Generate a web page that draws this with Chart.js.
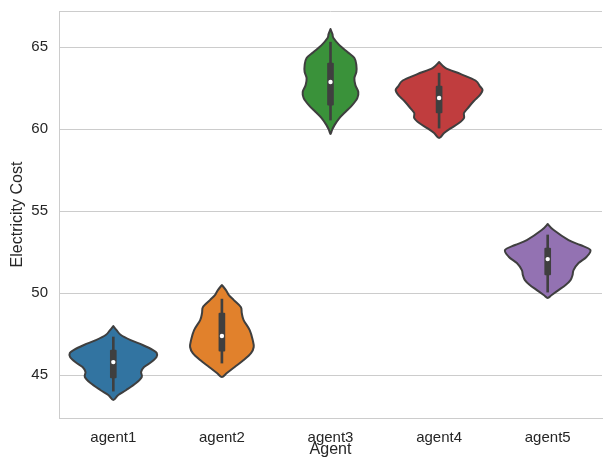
<!DOCTYPE html>
<html>
<head>
<meta charset="utf-8">
<script src="https://cdn.jsdelivr.net/npm/chart.js@4.4.1/dist/chart.umd.min.js"></script>
<style>
  html, body { margin: 0; padding: 0; background: #ffffff; overflow: hidden; }
  #wrap { width: 603px; height: 462px; overflow: hidden; }
  canvas { display: block; }
</style>
</head>
<body>
<div id="wrap"><canvas id="chart" width="606" height="462"></canvas></div>
<script>
// Categories and summary statistics of electricity cost per agent
const agents = ['agent1', 'agent2', 'agent3', 'agent4', 'agent5'];
const whiskerLow  = [44.02, 45.73, 60.55, 60.06, 50.06];
const whiskerHigh = [47.32, 49.63, 65.30, 63.41, 53.54];
const quartile1   = [44.82, 46.46, 61.46, 60.98, 51.10];
const quartile3   = [46.52, 48.78, 64.02, 62.62, 52.74];
const medians     = [45.79, 47.38, 62.87, 61.89, 52.07];
const yTicks      = [45, 50, 55, 60, 65];

// Kernel density outlines: cost levels (top to bottom) and the half-width of
// each violin at that level, in category units
const violinLevels = [
  [47.99, 47.74, 47.44, 47.13, 46.83, 46.52, 46.34, 46.10, 45.79, 45.49, 45.18, 44.88, 44.51, 44.09, 43.78, 43.48],
  [50.49, 50.18, 49.88, 49.57, 49.15, 48.78, 48.35, 47.74, 47.13, 46.71, 46.34, 45.91, 45.49, 45.12, 44.88],
  [66.10, 65.79, 65.55, 65.12, 64.70, 64.33, 63.90, 63.48, 63.11, 62.68, 62.26, 61.89, 61.46, 61.04, 60.67, 60.24, 59.94, 59.70],
  [64.09, 63.72, 63.35, 62.96, 62.62, 62.38, 62.07, 61.71, 61.28, 60.98, 60.67, 60.37, 60.06, 59.76, 59.45],
  [54.21, 53.84, 53.23, 52.93, 52.62, 52.20, 51.83, 51.40, 51.10, 50.79, 50.49, 50.18, 49.88, 49.70]
];
const violinWidths = [
  [0, 0.030, 0.070, 0.160, 0.270, 0.366, 0.400, 0.398, 0.350, 0.283, 0.256, 0.262, 0.210, 0.120, 0.046, 0],
  [0, 0.037, 0.064, 0.110, 0.174, 0.183, 0.200, 0.256, 0.284, 0.293, 0.268, 0.200, 0.118, 0.046, 0],
  [0, 0.018, 0.027, 0.082, 0.156, 0.220, 0.238, 0.238, 0.220, 0.229, 0.256, 0.247, 0.200, 0.137, 0.082, 0.037, 0.014, 0],
  [0, 0.060, 0.200, 0.335, 0.375, 0.400, 0.375, 0.320, 0.265, 0.229, 0.229, 0.183, 0.110, 0.046, 0],
  [0, 0.055, 0.192, 0.300, 0.393, 0.357, 0.284, 0.238, 0.229, 0.210, 0.165, 0.100, 0.037, 0]
];
const violinColors = ['#3274A1', '#E1812C', '#3A923A', '#C03D3E', '#9372B2'];

const INK = '#3f3f3f';
const TEXT = '#262626';
const GRID = '#cccccc';

// Smooth outline through points using Catmull-Rom splines
function smoothPath(ctx, pts) {
  const n = pts.length;
  ctx.moveTo(pts[0][0], pts[0][1]);
  for (let i = 0; i < n - 1; i++) {
    const p0 = pts[Math.max(i - 1, 0)];
    const p1 = pts[i];
    const p2 = pts[i + 1];
    const p3 = pts[Math.min(i + 2, n - 1)];
    const c1x = p1[0] + (p2[0] - p0[0]) / 6;
    const c1y = p1[1] + (p2[1] - p0[1]) / 6;
    const c2x = p2[0] - (p3[0] - p1[0]) / 6;
    const c2y = p2[1] - (p3[1] - p1[1]) / 6;
    ctx.bezierCurveTo(c1x, c1y, c2x, c2y, p2[0], p2[1]);
  }
}

const violinPlugin = {
  id: 'violins',
  beforeDatasetsDraw(chart) {
    const { ctx, chartArea, scales: { x, y } } = chart;
    ctx.save();
    // top frame line
    ctx.strokeStyle = GRID;
    ctx.lineWidth = 1;
    ctx.beginPath();
    ctx.moveTo(chartArea.left, Math.round(chartArea.top) + 0.5);
    ctx.lineTo(chartArea.right, Math.round(chartArea.top) + 0.5);
    ctx.stroke();

    agents.forEach((name, i) => {
      const levels = violinLevels[i];
      const widths = violinWidths[i];
      const right = levels.map((v, k) => [x.getPixelForValue(i + widths[k]), y.getPixelForValue(v)]);
      const left = levels.map((v, k) => [x.getPixelForValue(i - widths[k]), y.getPixelForValue(v)]).reverse();
      const pts = right.concat(left.slice(1));
      ctx.beginPath();
      smoothPath(ctx, pts);
      ctx.closePath();
      ctx.fillStyle = violinColors[i];
      ctx.fill();
      ctx.lineWidth = 2;
      ctx.strokeStyle = INK;
      ctx.lineJoin = 'round';
      ctx.stroke();
    });
    ctx.restore();
  }
};

new Chart(document.getElementById('chart'), {
  type: 'bar',
  data: {
    labels: agents,
    datasets: [
      {
        label: 'whisker',
        data: agents.map((_, i) => [whiskerLow[i], whiskerHigh[i]]),
        backgroundColor: INK,
        barThickness: 2,
        grouped: false,
        order: 3
      },
      {
        label: 'box',
        data: agents.map((_, i) => [quartile1[i], quartile3[i]]),
        backgroundColor: INK,
        barThickness: 6,
        borderRadius: 1,
        borderSkipped: false,
        grouped: false,
        order: 2
      },
      {
        type: 'line',
        label: 'median',
        data: medians,
        showLine: false,
        pointRadius: 2.2,
        pointBackgroundColor: '#ffffff',
        pointBorderWidth: 0,
        order: 1
      }
    ]
  },
  options: {
    responsive: false,
    animation: false,
    devicePixelRatio: 1,
    layout: { padding: { top: 11, left: 0, right: 0, bottom: 0 } },
    plugins: { legend: { display: false }, tooltip: { enabled: false } },
    scales: {
      x: {
        type: 'category',
        offset: true,
        grid: { display: false, drawTicks: false },
        border: { display: true, color: GRID, width: 1 },
        ticks: { color: TEXT, padding: 11, font: { family: 'Liberation Sans', size: 15 } },
        title: {
          display: true, text: 'Agent', color: TEXT,
          font: { family: 'Liberation Sans', size: 16 },
          padding: { top: 0, bottom: 3 }
        },
        afterFit(scale) {
          scale.height = 44;
          scale.paddingLeft = 0;
          scale.paddingRight = 0;
        }
      },
      y: {
        type: 'linear',
        min: 42.38,
        max: 67.2,
        afterBuildTicks(scale) { scale.ticks = yTicks.map(v => ({ value: v })); },
        grid: { color: GRID, lineWidth: 1, drawTicks: false },
        border: { display: true, color: GRID, width: 1 },
        ticks: { color: TEXT, padding: 11, font: { family: 'Liberation Sans', size: 15 } },
        title: {
          display: true, text: 'Electricity Cost', color: TEXT,
          font: { family: 'Liberation Sans', size: 16 },
          padding: { top: 8, bottom: 0 }
        },
        afterFit(scale) {
          scale.width = 59;
          scale.paddingTop = 0;
          scale.paddingBottom = 0;
        }
      }
    }
  },
  plugins: [violinPlugin]
});
</script>
</body>
</html>
